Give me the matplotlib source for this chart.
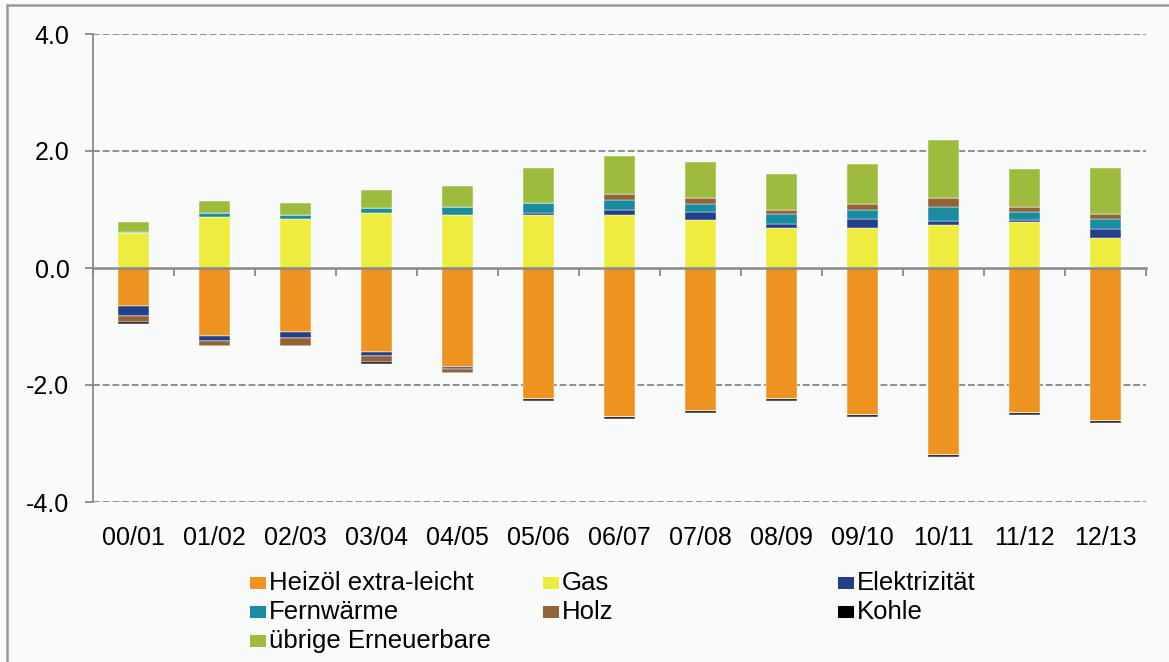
import matplotlib
matplotlib.use("Agg")
import matplotlib.pyplot as plt
import numpy as np
from matplotlib.patches import Rectangle
from matplotlib.transforms import blended_transform_factory

plt.rcParams['font.family'] = ['Liberation Sans', 'DejaVu Sans']

categories = ["00/01", "01/02", "02/03", "03/04", "04/05", "05/06", "06/07",
              "07/08", "08/09", "09/10", "10/11", "11/12", "12/13"]

heizoel = [-0.655, -1.17, -1.10, -1.44, -1.69, -2.24, -2.55, -2.45, -2.24, -2.52, -3.19, -2.48, -2.61]
gas = [0.59, 0.87, 0.83, 0.94, 0.90, 0.90, 0.90, 0.82, 0.69, 0.69, 0.73, 0.79, 0.52]
elektrizitaet = [-0.17, -0.07, -0.10, -0.07, -0.03, 0.035, 0.10, 0.14, 0.07, 0.14, 0.07, 0.035, 0.14]
fernwaerme = [0.03, 0.07, 0.075, 0.09, 0.14, 0.17, 0.17, 0.14, 0.17, 0.17, 0.235, 0.14, 0.17]
holz = [-0.10, -0.10, -0.14, -0.10, -0.07, 0.0, 0.10, 0.10, 0.07, 0.10, 0.17, 0.07, 0.10]
kohle = [-0.035, 0.0, 0.0, -0.035, 0.0, -0.035, -0.035, -0.035, -0.035, -0.035, -0.035, -0.035, -0.035]
uebrige = [0.17, 0.20, 0.20, 0.31, 0.37, 0.61, 0.65, 0.62, 0.61, 0.68, 0.99, 0.65, 0.78]

series_names = ["Heizöl extra-leicht", "Gas", "Elektrizität", "Fernwärme", "Holz", "Kohle", "übrige Erneuerbare"]
series_values = [heizoel, gas, elektrizitaet, fernwaerme, holz, kohle, uebrige]
series_colors = ["#EE9220", "#EEEC3E", "#233F8A", "#1A8CA0", "#936337", "#000000", "#9DBB3C"]

W, H = 1169, 662
fig = plt.figure(figsize=(W / 100, H / 100), dpi=100)
bg = "#f9fafa"
fig.patch.set_facecolor(bg)

ax = fig.add_axes([93 / W, (H - 502) / H, (1146 - 93) / W, (502 - 34) / H])
ax.set_facecolor(bg)

x = np.arange(len(categories))
pos_base = np.zeros(len(categories))
neg_base = np.zeros(len(categories))
for name, vals, col in zip(series_names, series_values, series_colors):
    v = np.array(vals, dtype=float)
    pos = np.where(v > 0, v, 0)
    neg = np.where(v < 0, v, 0)
    ax.bar(x, pos, 0.39, bottom=pos_base, color=col, edgecolor="#ffffff", linewidth=0.3, zorder=3)
    ax.bar(x, neg, 0.39, bottom=neg_base, color=col, edgecolor="#ffffff", linewidth=0.3, zorder=3)
    pos_base += pos
    neg_base += neg

ax.set_xlim(-0.5, len(categories) - 0.5)
ax.set_ylim(-4, 4)

for s in ["top", "right"]:
    ax.spines[s].set_visible(False)
ax.spines["left"].set_color("#888888")
ax.spines["left"].set_linewidth(1.3)
ax.spines["bottom"].set_position(("data", 0))
ax.spines["bottom"].set_color("#888888")
ax.spines["bottom"].set_linewidth(1.8)
ax.spines["bottom"].set_zorder(4)

yt = [-4, -2, 0, 2, 4]
ax.set_yticks(yt)
ax.set_yticklabels([f"{v:.1f}" for v in yt], fontsize=18)
ax.tick_params(axis="y", length=6, width=1.3, color="#888888", pad=11)
for v in [-4, -2, 2, 4]:
    ax.axhline(v, color="#8f8f8f", linewidth=1.4, linestyle=(0, (3.5, 1.5)), zorder=1)

ax.set_xticks(np.arange(len(categories) + 1) - 0.5)
ax.set_xticklabels([])
ax.tick_params(axis="x", length=6, width=1.3, color="#888888", direction="out")

trans = blended_transform_factory(ax.transData, fig.transFigure)
for i, c in enumerate(categories):
    ax.text(i, (H - 545) / H, c, transform=trans, ha="center", va="baseline", fontsize=18)

# legend
cols_sq = [250, 543, 838]
rows_sq = [583, 612, 641]
rows_txt = [590, 619, 648]
legend_layout = [(0, 0), (1, 0), (2, 0), (0, 1), (1, 1), (2, 1), (0, 2)]
for (ci, ri), name, col in zip(legend_layout, series_names, series_colors):
    sx = cols_sq[ci]
    sy = rows_sq[ri]
    fig.patches.append(Rectangle((sx / W, (H - sy - 6) / H), 16 / W, 12 / H,
                                 transform=fig.transFigure, facecolor=col, edgecolor="none"))
    fig.text((sx + 19) / W, (H - rows_txt[ri]) / H, name, fontsize=18.5, ha="left", va="baseline")

# outer frame
fig.patches.append(Rectangle((7 / W, -0.05), 1.2, (H - 5) / H + 0.05, transform=fig.transFigure,
                             facecolor="none", edgecolor="#999999", linewidth=1.8))

fig.savefig("out.png", dpi=100, facecolor=bg)
